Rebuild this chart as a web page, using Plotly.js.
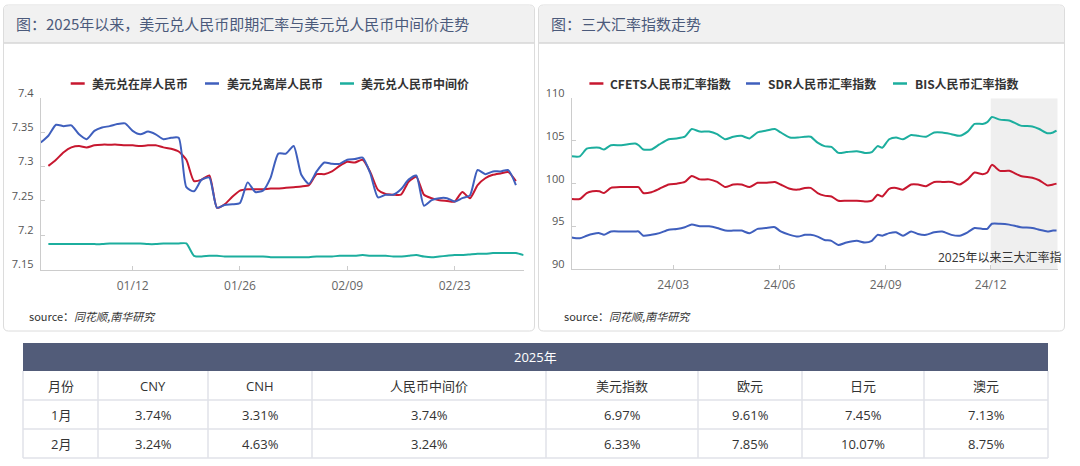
<!DOCTYPE html>
<html>
<head>
<meta charset="utf-8">
<script src="https://cdn.plot.ly/plotly-3.0.1.min.js"></script>
<style>
html,body{margin:0;padding:0;background:#fff;}
#chart{width:1080px;height:466px;}
</style>
</head>
<body>
<div id="chart"></div>
<script>
// ---------------- DATA ----------------
// Left chart: daily dates (2024-12-31 .. 2025-03-04)
const fxDates = ['2024-12-31',
'2025-01-01','2025-01-02','2025-01-03','2025-01-04','2025-01-05','2025-01-06','2025-01-07','2025-01-08','2025-01-09','2025-01-10',
'2025-01-11','2025-01-12','2025-01-13','2025-01-14','2025-01-15','2025-01-16','2025-01-17','2025-01-18','2025-01-19','2025-01-20',
'2025-01-21','2025-01-22','2025-01-23','2025-01-24','2025-01-25','2025-01-26','2025-01-27','2025-01-28','2025-01-29','2025-01-30','2025-01-31',
'2025-02-01','2025-02-02','2025-02-03','2025-02-04','2025-02-05','2025-02-06','2025-02-07','2025-02-08','2025-02-09','2025-02-10',
'2025-02-11','2025-02-12','2025-02-13','2025-02-14','2025-02-15','2025-02-16','2025-02-17','2025-02-18','2025-02-19','2025-02-20',
'2025-02-21','2025-02-22','2025-02-23','2025-02-24','2025-02-25','2025-02-26','2025-02-27','2025-02-28',
'2025-03-01','2025-03-02','2025-03-03','2025-03-04'];
// 美元兑在岸人民币
const cny = [null,7.301,7.310,7.321,7.328,7.330,7.328,7.331,7.332,7.332,7.332,
7.331,7.331,7.330,7.331,7.331,7.328,7.326,7.322,7.310,7.279,
7.281,7.287,7.240,7.245,7.256,7.265,7.267,7.267,7.267,7.268,
7.268,7.269,7.270,7.271,7.273,7.289,7.289,7.293,7.301,7.307,
7.306,7.310,7.292,7.266,7.260,7.259,7.259,7.278,7.285,7.259,
7.254,7.251,7.250,7.249,7.263,7.254,7.273,7.283,7.288,7.290,
7.292,7.279,null];
// 美元兑离岸人民币
const cnh = [7.335,7.345,7.361,7.359,7.360,7.347,7.340,7.352,7.357,7.359,
7.362,7.363,7.352,7.347,7.351,7.347,7.340,7.342,7.342,7.270,
7.264,7.281,7.284,7.240,7.244,7.245,7.247,7.277,7.263,7.265,
7.284,7.319,7.319,7.330,7.288,7.275,7.293,7.306,7.304,7.304,
7.310,7.311,7.313,7.290,7.255,7.259,7.259,7.267,7.281,7.287,
7.243,7.251,7.254,7.254,7.249,7.254,7.258,7.295,7.289,7.293,
7.293,7.295,7.273,null];
// 美元兑人民币中间价
const mid = [null,7.187,7.187,7.187,7.187,7.187,7.187,7.187,7.187,7.188,7.188,
7.188,7.188,7.188,7.187,7.187,7.188,7.188,7.188,7.188,7.170,
7.169,7.170,7.170,7.169,7.169,7.169,7.169,7.169,7.169,7.168,
7.168,7.168,7.168,7.168,7.168,7.169,7.169,7.169,7.170,7.170,
7.170,7.171,7.170,7.170,7.170,7.169,7.169,7.170,7.171,7.169,
7.168,7.169,7.170,7.171,7.171,7.172,7.173,7.173,7.174,7.174,
7.174,7.174,7.171];
const fxNames = ['美元兑在岸人民币','美元兑离岸人民币','美元兑人民币中间价'];
const fxTickVals = ['2025-01-12','2025-01-26','2025-02-09','2025-02-23'];
const fxTickText = ['01/12','01/26','02/09','02/23'];
const fxYTicks = [7.15,7.2,7.25,7.3,7.35,7.4];
const fxYText = ['7.15','7.2','7.25','7.3','7.35','7.4'];

// Right chart: index dates
const idxDates = ['2023-12-04','2023-12-11','2023-12-17','2023-12-22','2023-12-28','2024-01-01','2024-01-07','2024-01-16','2024-01-28','2024-01-31',
'2024-02-04','2024-02-11','2024-02-18','2024-02-26','2024-03-04','2024-03-11','2024-03-17','2024-03-24','2024-04-01','2024-04-08',
'2024-04-15','2024-04-22','2024-04-29','2024-05-06','2024-05-13','2024-05-20','2024-05-28','2024-06-02','2024-06-10','2024-06-17',
'2024-06-23','2024-06-28','2024-07-04','2024-07-10','2024-07-16','2024-07-22','2024-07-29','2024-08-07','2024-08-14','2024-08-20',
'2024-08-25','2024-08-29','2024-09-04','2024-09-10','2024-09-16','2024-09-23','2024-09-29','2024-10-06','2024-10-13','2024-10-20',
'2024-10-28','2024-11-04','2024-11-11','2024-11-17','2024-11-24','2024-11-28','2024-12-02','2024-12-09','2024-12-17','2024-12-27',
'2025-01-06','2025-01-12','2025-01-19','2025-01-24','2025-01-27'];
const cfets = [98.2,98.2,98.9,99.1,99.1,98.9,99.5,99.6,99.6,99.6,
98.9,99.0,99.4,99.9,100.0,100.2,100.9,100.5,100.5,100.2,
99.6,99.9,99.9,99.6,100.1,100.1,100.2,99.9,99.4,99.3,
99.5,99.5,98.9,98.6,98.5,98.0,98.0,98.0,97.9,98.0,
98.7,98.5,99.4,99.5,99.3,99.9,99.9,99.7,100.2,100.2,
100.2,99.9,100.5,101.3,101.1,101.3,102.2,101.5,101.5,100.9,
100.7,100.4,99.8,99.9,100.0];
const sdr = [93.7,93.6,93.9,94.1,94.2,94.0,94.4,94.4,94.4,94.4,
93.9,94.0,94.2,94.6,94.7,94.9,95.2,95.0,95.0,94.8,
94.5,94.5,94.5,94.2,94.7,94.8,94.9,94.4,94.0,93.8,
94.0,94.0,93.8,93.4,93.3,92.8,93.1,93.3,93.1,93.3,
94.0,93.9,94.2,94.3,93.9,94.4,94.1,94.0,94.3,94.4,
94.0,93.9,94.3,94.8,94.7,94.7,95.3,95.3,95.2,94.9,
94.8,94.6,94.4,94.5,94.5];
const bis = [103.2,103.2,104.1,104.2,104.2,104.0,104.5,104.5,104.7,104.5,
104.0,104.0,104.6,105.2,105.3,105.5,106.4,106.1,106.1,105.8,
105.2,105.5,105.6,105.3,106.0,106.2,106.4,106.0,105.4,105.4,
105.5,105.5,104.8,104.4,104.3,103.6,103.7,103.8,103.6,103.7,
104.4,104.2,105.2,105.4,105.2,105.7,105.6,105.5,106.0,106.0,
105.8,105.6,106.1,107.0,107.0,107.2,107.8,107.5,107.4,106.8,
106.7,106.4,105.9,106.0,106.2];
const idxNames = ['CFETS人民币汇率指数','SDR人民币汇率指数','BIS人民币汇率指数'];
const idxTickVals = ['2024-03-01','2024-06-01','2024-09-01','2024-12-01'];
const idxTickText = ['24/03','24/06','24/09','24/12'];
const idxYTicks = [90,95,100,105,110];
const shadeRange = ['2024-12-01','2025-01-28'];
const shadeLabel = '2025年以来三大汇率指';

// Table
const tableTitle = '2025年';
const tableHead = ['月份','CNY','CNH','人民币中间价','美元指数','欧元','日元','澳元'];
const tableRow1 = ['1月','3.74%','3.31%','3.74%','6.97%','9.61%','7.45%','7.13%'];
const tableRow2 = ['2月','3.24%','4.63%','3.24%','6.33%','7.85%','10.07%','8.75%'];

const titleLeft = '图：2025年以来，美元兑人民币即期汇率与美元兑人民币中间价走势';
const titleRight = '图：三大汇率指数走势';
const sourceText = 'source：<i>同花顺,南华研究</i>';

// ---------------- STYLE / LAYOUT ----------------
const W = 1080, H = 466;
const X = p => p / W;
const Y = p => 1 - p / H;
const RED = '#c7172f', BLUE = '#3f5fbd', TEAL = '#1cae9e';
const FONT = '"Open Sans", "Noto Sans CJK SC", sans-serif';
const CJK = '"Noto Sans CJK SC", "Open Sans", sans-serif';

function rr(x0, y0, x1, y1, r) {
  return `M${X(x0 + r)},${Y(y0)} L${X(x1 - r)},${Y(y0)} Q${X(x1)},${Y(y0)} ${X(x1)},${Y(y0 + r)} ` +
    `L${X(x1)},${Y(y1 - r)} Q${X(x1)},${Y(y1)} ${X(x1 - r)},${Y(y1)} L${X(x0 + r)},${Y(y1)} ` +
    `Q${X(x0)},${Y(y1)} ${X(x0)},${Y(y1 - r)} L${X(x0)},${Y(y0 + r)} Q${X(x0)},${Y(y0)} ${X(x0 + r)},${Y(y0)} Z`;
}
function rrTop(x0, y0, x1, y1, r) {
  return `M${X(x0)},${Y(y1)} L${X(x0)},${Y(y0 + r)} Q${X(x0)},${Y(y0)} ${X(x0 + r)},${Y(y0)} ` +
    `L${X(x1 - r)},${Y(y0)} Q${X(x1)},${Y(y0)} ${X(x1)},${Y(y0 + r)} L${X(x1)},${Y(y1)} Z`;
}

const shapes = [];
const annotations = [];
const panels = [[3.5, 534.5], [538.5, 1064.5]];
const panelTitles = [titleLeft, titleRight];
panels.forEach((p, i) => {
  shapes.push({type: 'path', xref: 'paper', yref: 'paper', path: rr(p[0], 5, p[1], 331, 5),
    fillcolor: '#ffffff', line: {color: '#dcdcdc', width: 1}, layer: 'below'});
  shapes.push({type: 'path', xref: 'paper', yref: 'paper', path: rrTop(p[0] + 0.5, 5.5, p[1] - 0.5, 43, 5),
    fillcolor: '#f1f1f1', line: {width: 0}, layer: 'below'});
  shapes.push({type: 'line', xref: 'paper', yref: 'paper', x0: X(p[0] + 0.5), x1: X(p[1] - 0.5), y0: Y(43), y1: Y(43),
    line: {color: '#d6d6d6', width: 1.5}, layer: 'below'});
  annotations.push({xref: 'paper', yref: 'paper', x: X(p[0] + 10), y: Y(23.5), xanchor: 'left', yanchor: 'middle',
    text: panelTitles[i], showarrow: false, font: {family: CJK, size: 15, color: '#4b5a7b'}});
  annotations.push({xref: 'paper', yref: 'paper', x: X(p[0] + 23.5), y: Y(316), xanchor: 'left', yanchor: 'middle',
    text: sourceText, showarrow: false, font: {family: CJK, size: 11, color: '#333'}});
});

// Legends (manual)
const legLeft = [[70.7, 90], [205, 225], [340, 359]];
const legRight = [[589.4, 608], [746, 766], [893, 912.6]];
const colors = [RED, BLUE, TEAL];
[[legLeft, fxNames], [legRight, idxNames]].forEach(([pos, names]) => {
  pos.forEach((q, i) => {
    shapes.push({type: 'line', xref: 'paper', yref: 'paper', x0: X(q[0]), x1: X(q[0] + 14), y0: Y(83.5), y1: Y(83.5),
      line: {color: colors[i], width: 2.5}});
    annotations.push({xref: 'paper', yref: 'paper', x: X(q[1]), y: Y(83.5), xanchor: 'left', yanchor: 'middle',
      text: '<b>' + names[i] + '</b>', showarrow: false, font: {family: CJK, size: 12, color: '#333'}});
  });
});

// Shaded region in right chart
shapes.push({type: 'rect', xref: 'x2', yref: 'y2', x0: shadeRange[0], x1: shadeRange[1], y0: 90, y1: 110,
  fillcolor: '#efefef', line: {width: 0}, layer: 'below'});
annotations.push({xref: 'paper', yref: 'paper', x: X(1063), y: Y(257.5), xanchor: 'right', yanchor: 'middle',
  text: shadeLabel, showarrow: false, font: {family: FONT, size: 12, color: '#333'}});

// Table
const colEdges = [23, 98, 208, 312, 546, 698, 802, 924, 1048];
const rowEdges = [343, 371, 400, 429, 458];
shapes.push({type: 'rect', xref: 'paper', yref: 'paper', x0: X(colEdges[0]), x1: X(colEdges[8]), y0: Y(rowEdges[0]), y1: Y(rowEdges[1]),
  fillcolor: '#525c79', line: {width: 0}});
annotations.push({xref: 'paper', yref: 'paper', x: X((colEdges[0] + colEdges[8]) / 2), y: Y(357), xanchor: 'center', yanchor: 'middle',
  text: tableTitle, showarrow: false, font: {family: FONT, size: 13, color: '#ffffff'}});
const gridCol = '#e1e2e9';
colEdges.forEach(cx => {
  shapes.push({type: 'line', xref: 'paper', yref: 'paper', x0: X(cx), x1: X(cx), y0: Y(rowEdges[1]), y1: Y(rowEdges[4]),
    line: {color: gridCol, width: 1.5}});
});
[rowEdges[2], rowEdges[3], rowEdges[4]].forEach(ry => {
  shapes.push({type: 'line', xref: 'paper', yref: 'paper', x0: X(colEdges[0]), x1: X(colEdges[8]), y0: Y(ry), y1: Y(ry),
    line: {color: gridCol, width: 1.5}});
});
[tableHead, tableRow1, tableRow2].forEach((row, r) => {
  row.forEach((t, c) => {
    annotations.push({xref: 'paper', yref: 'paper', x: X((colEdges[c] + colEdges[c + 1]) / 2),
      y: Y((rowEdges[r + 1] + rowEdges[r + 2]) / 2), xanchor: 'center', yanchor: 'middle',
      text: t, showarrow: false, font: {family: FONT, size: 13, color: '#333'}});
  });
});

function line(x, y, color, xa, ya) {
  return {type: 'scatter', mode: 'lines', x: x, y: y, xaxis: xa, yaxis: ya,
    line: {color: color, width: 2, shape: 'spline', smoothing: 0.6}, hoverinfo: 'skip', showlegend: false};
}
const data = [
  line(fxDates, cny, RED, 'x', 'y'),
  line(fxDates, cnh, BLUE, 'x', 'y'),
  line(fxDates, mid, TEAL, 'x', 'y'),
  line(idxDates, cfets, RED, 'x2', 'y2'),
  line(idxDates, sdr, BLUE, 'x2', 'y2'),
  line(idxDates, bis, TEAL, 'x2', 'y2')
];

const axCommon = {showgrid: false, zeroline: false, showline: true, linecolor: '#cccccc', linewidth: 1,
  ticks: 'inside', ticklen: 4, tickcolor: '#cccccc', fixedrange: true};
const layout = {
  width: W, height: H,
  margin: {l: 0, r: 0, t: 0, b: 0},
  paper_bgcolor: '#ffffff', plot_bgcolor: 'rgba(0,0,0,0)',
  font: {family: FONT},
  xaxis: Object.assign({}, axCommon, {domain: [X(40.7), X(523.6)], anchor: 'y', type: 'date',
    range: ['2024-12-31', '2025-03-04'], tickmode: 'array', tickvals: fxTickVals, ticktext: fxTickText,
    tickfont: {size: 12, color: '#666'}, ticklabelstandoff: 5}),
  yaxis: Object.assign({}, axCommon, {domain: [Y(269.5), Y(98)], anchor: 'x', range: [7.15, 7.4],
    tickmode: 'array', tickvals: fxYTicks, ticktext: fxYText, tickfont: {size: 11, color: '#555'},
    ticklabelshift: -5, ticklabelstandoff: 4}),
  xaxis2: Object.assign({}, axCommon, {domain: [X(571.7), X(1057.7)], anchor: 'y2', type: 'date',
    range: ['2023-12-04', '2025-01-28'], tickmode: 'array', tickvals: idxTickVals, ticktext: idxTickText,
    tickfont: {size: 12, color: '#666'}, ticklabelstandoff: 5}),
  yaxis2: Object.assign({}, axCommon, {domain: [Y(269), Y(98.3)], anchor: 'x2', range: [90, 110],
    tickmode: 'array', tickvals: idxYTicks, tickfont: {size: 11, color: '#555'},
    ticklabelshift: -5, ticklabelstandoff: 4}),
  shapes: shapes,
  annotations: annotations
};
Plotly.newPlot('chart', data, layout, {staticPlot: true, displayModeBar: false});
</script>
</body>
</html>
